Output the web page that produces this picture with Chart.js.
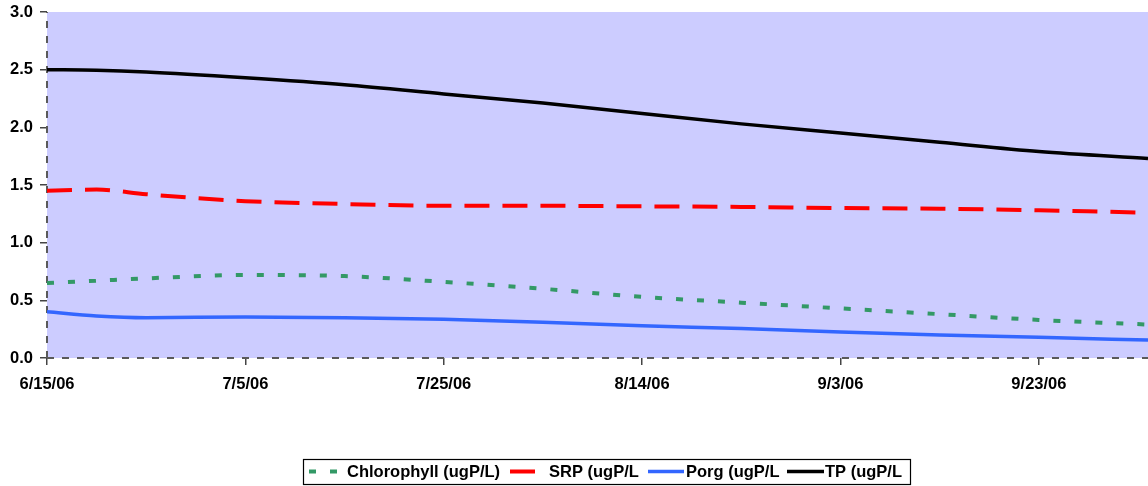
<!DOCTYPE html>
<html>
<head>
<meta charset="utf-8">
<script src="https://cdn.jsdelivr.net/npm/chart.js@4.4.1/dist/chart.umd.min.js"></script>
<style>
  html, body { margin: 0; padding: 0; background: #fff; }
  #wrap { width: 1148px; height: 486px; position: relative; }
</style>
</head>
<body>
<div id="wrap"><canvas id="c" width="1148" height="486"></canvas></div>
<script>
// Sampling days, counted from 6/15/06
const startDate = Date.UTC(2006, 5, 15);
const days = [0, 5, 10, 20, 30, 40, 50, 60, 70, 80, 90, 100, 111];

// Concentrations (ugP/L)
const chlorophyll = [0.65, 0.67, 0.69, 0.72, 0.71, 0.66, 0.60, 0.53, 0.48, 0.43, 0.38, 0.33, 0.29];
const srp         = [1.45, 1.46, 1.42, 1.36, 1.335, 1.32, 1.32, 1.315, 1.31, 1.30, 1.295, 1.28, 1.26];
const porg        = [0.40, 0.365, 0.35, 0.355, 0.35, 0.335, 0.31, 0.28, 0.255, 0.225, 0.20, 0.18, 0.155];
const tp          = [2.50, 2.495, 2.48, 2.43, 2.37, 2.29, 2.21, 2.12, 2.03, 1.95, 1.87, 1.79, 1.73];

const seriesNames = ['Chlorophyll (ugP/L)', 'SRP (ugP/L', 'Porg (ugP/L', 'TP (ugP/L'];
const yTicks = [0, 0.5, 1.0, 1.5, 2.0, 2.5, 3.0];
const xTickDays = [0, 20, 40, 60, 80, 100];

const pts = arr => arr.map((v, i) => ({ x: days[i], y: v }));

function dayLabel(d) {
  const dt = new Date(startDate + d * 86400000);
  return (dt.getUTCMonth() + 1) + '/' + dt.getUTCDate() + '/' + String(dt.getUTCFullYear()).slice(2);
}

const FONT = '"Liberation Sans", Arial, sans-serif';

// Lavender plot background
const plotBg = {
  id: 'plotBg',
  beforeDraw(chart) {
    const { ctx, chartArea: a } = chart;
    ctx.save();
    ctx.fillStyle = '#CCCCFF';
    ctx.fillRect(a.left, a.top, a.right - a.left, a.bottom - a.top);
    ctx.restore();
  }
};

// Dashed axis lines along the left and bottom edges of the plot
const dashedAxes = {
  id: 'dashedAxes',
  beforeDatasetsDraw(chart) {
    const { ctx, chartArea: a } = chart;
    ctx.save();
    ctx.strokeStyle = '#5a5a5a';
    ctx.lineWidth = 2;
    ctx.setLineDash([7, 8]);
    ctx.beginPath();
    ctx.moveTo(a.left, a.bottom);
    ctx.lineTo(a.left, a.top);
    ctx.stroke();
    ctx.beginPath();
    ctx.moveTo(a.left, a.bottom);
    ctx.lineTo(a.right, a.bottom);
    ctx.stroke();
    ctx.restore();
  }
};

// Boxed legend below the plot
const boxLegend = {
  id: 'boxLegend',
  afterDraw(chart) {
    const ctx = chart.ctx;
    const ds = chart.data.datasets;
    const cy = 471.5;
    ctx.save();
    ctx.strokeStyle = '#000';
    ctx.lineWidth = 1.2;
    ctx.strokeRect(303.5, 459.5, 607, 25);
    ctx.font = 'bold 16.5px ' + FONT;
    ctx.fillStyle = '#000';
    ctx.textBaseline = 'middle';
    const items = [
      { x0: 309, x1: 338, tx: 347 },
      { x0: 510, x1: 535, tx: 549 },
      { x0: 648, x1: 684, tx: 686 },
      { x0: 787, x1: 824, tx: 825 }
    ];
    items.forEach((it, i) => {
      const d = ds[i];
      ctx.beginPath();
      ctx.strokeStyle = d.borderColor;
      ctx.lineWidth = d.borderWidth;
      ctx.setLineDash(i === 0 ? [7, 14] : []);
      ctx.moveTo(it.x0, cy);
      ctx.lineTo(it.x1, cy);
      ctx.stroke();
      ctx.setLineDash([]);
      ctx.fillText(d.label, it.tx, cy + 1);
    });
    ctx.restore();
  }
};

new Chart(document.getElementById('c'), {
  type: 'line',
  data: {
    datasets: [
      { label: seriesNames[0], data: pts(chlorophyll), borderColor: '#339966', borderWidth: 4, borderDash: [7, 14] },
      { label: seriesNames[1], data: pts(srp), borderColor: '#FF0000', borderWidth: 4, borderDash: [25, 13] },
      { label: seriesNames[2], data: pts(porg), borderColor: '#3366FF', borderWidth: 3.5 },
      { label: seriesNames[3], data: pts(tp), borderColor: '#000000', borderWidth: 3.5 }
    ]
  },
  options: {
    responsive: false,
    animation: false,
    events: [],
    layout: { padding: { top: 12, right: 0, bottom: 0, left: 0 } },
    elements: {
      point: { radius: 0 },
      line: { tension: 0.4, cubicInterpolationMode: 'monotone', fill: false }
    },
    plugins: { legend: { display: false }, tooltip: { enabled: false } },
    scales: {
      x: {
        type: 'linear',
        min: 0,
        max: 111,
        afterBuildTicks(scale) { scale.ticks = xTickDays.map(v => ({ value: v })); },
        afterFit(scale) { scale.height = 128; scale.paddingLeft = 0; scale.paddingRight = 0; },
        grid: { display: true, drawOnChartArea: false, drawTicks: true, tickLength: 7, color: '#444', lineWidth: 1.5 },
        border: { display: false },
        ticks: {
          color: '#000',
          padding: 10,
          maxRotation: 0,
          font: { family: FONT, size: 16.5, weight: 'bold' },
          callback: v => dayLabel(v)
        }
      },
      y: {
        min: 0,
        max: 3,
        afterBuildTicks(scale) { scale.ticks = yTicks.map(v => ({ value: v })); },
        afterFit(scale) { scale.width = 47; scale.paddingTop = 0; scale.paddingBottom = 0; },
        grid: { display: true, drawOnChartArea: false, drawTicks: true, tickLength: 7, color: '#444', lineWidth: 1.5 },
        border: { display: false },
        ticks: {
          color: '#000',
          padding: 7,
          font: { family: FONT, size: 16.5, weight: 'bold' },
          callback: v => v.toFixed(1)
        }
      }
    }
  },
  plugins: [plotBg, dashedAxes, boxLegend]
});
</script>
</body>
</html>
